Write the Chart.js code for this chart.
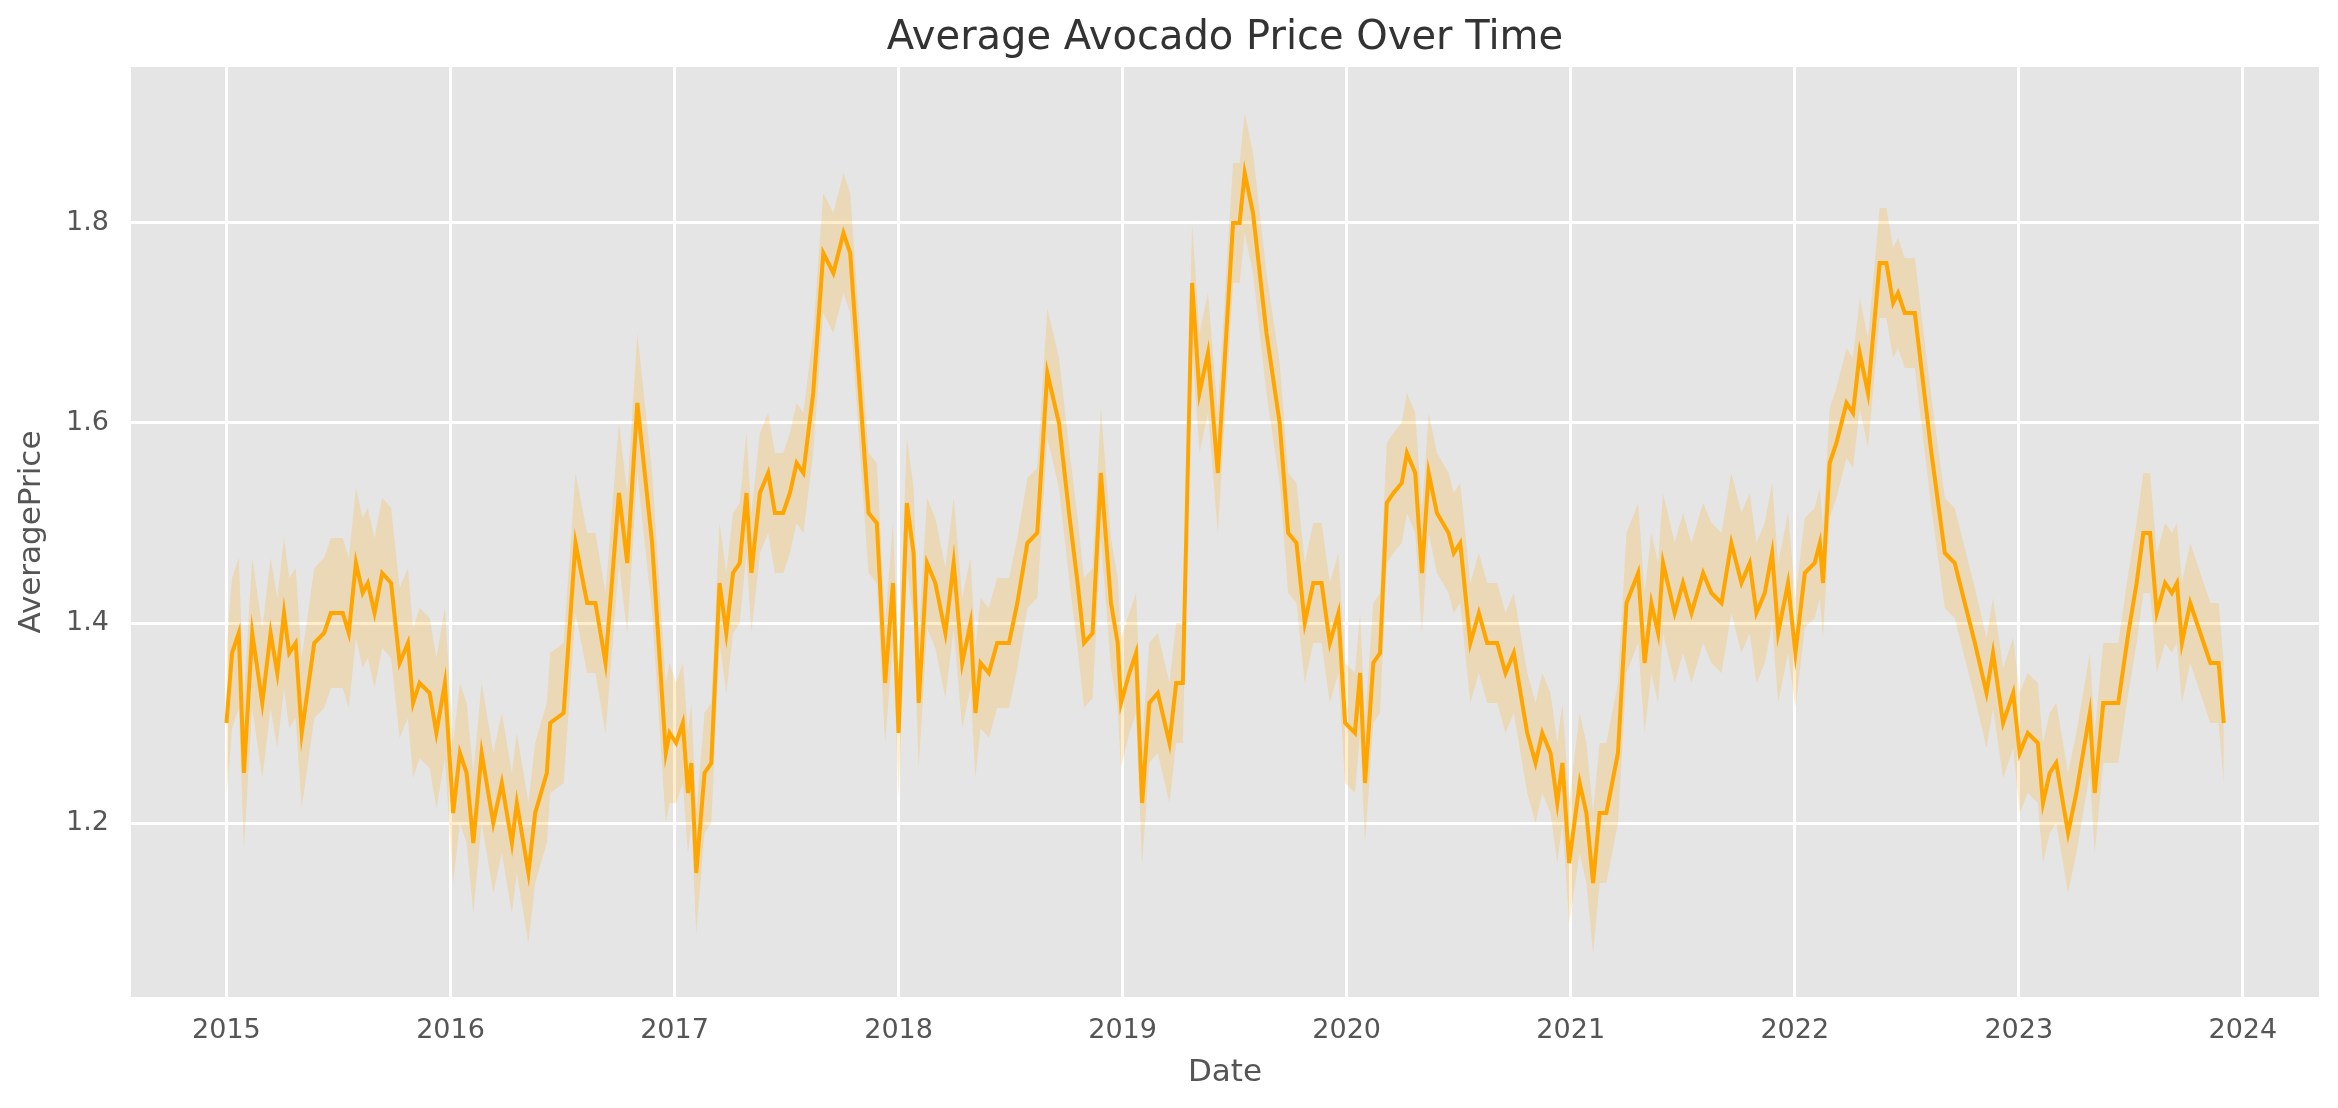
<!DOCTYPE html>
<html>
<head>
<meta charset="utf-8">
<title>Average Avocado Price Over Time</title>
<script src="https://cdn.jsdelivr.net/npm/chart.js@4.4.1/dist/chart.umd.min.js"></script>
<style>
  html, body { margin: 0; padding: 0; background: #ffffff; }
  #chart { display: block; }
</style>
</head>
<body>
<canvas id="chart" width="2338" height="1108"></canvas>
<script>
// readings: date as decimal year, weekly average price
const dates2015 = [2015.000, 2015.025, 2015.055, 2015.078, 2015.115, 2015.160, 2015.197, 2015.227, 2015.257, 2015.280,
  2015.309, 2015.336, 2015.392, 2015.436, 2015.466, 2015.519, 2015.546, 2015.578, 2015.608, 2015.631,
  2015.661, 2015.695, 2015.735, 2015.773, 2015.810, 2015.833, 2015.862, 2015.907, 2015.937, 2015.975];
const price2015 = [1.30, 1.37, 1.39, 1.25, 1.39, 1.32, 1.39, 1.35, 1.41, 1.37,
  1.38, 1.29, 1.38, 1.39, 1.41, 1.41, 1.39, 1.46, 1.43, 1.44,
  1.41, 1.45, 1.44, 1.36, 1.38, 1.32, 1.34, 1.33, 1.29, 1.34];

const dates2016 = [2016.012, 2016.042, 2016.072, 2016.102, 2016.139, 2016.191, 2016.229, 2016.274, 2016.296, 2016.348,
  2016.378, 2016.430, 2016.445, 2016.505, 2016.558, 2016.610, 2016.647, 2016.692, 2016.752, 2016.789,
  2016.834, 2016.900, 2016.961, 2016.978];
const price2016 = [1.21, 1.27, 1.25, 1.18, 1.27, 1.20, 1.24, 1.18, 1.22, 1.15,
  1.21, 1.25, 1.30, 1.31, 1.48, 1.42, 1.42, 1.36, 1.53, 1.46,
  1.62, 1.48, 1.27, 1.29];

const dates2017 = [2017.007, 2017.037, 2017.060, 2017.075, 2017.097, 2017.134, 2017.164, 2017.201, 2017.231, 2017.261,
  2017.291, 2017.321, 2017.343, 2017.381, 2017.418, 2017.448, 2017.485, 2017.515, 2017.545, 2017.575,
  2017.619, 2017.664, 2017.709, 2017.754, 2017.784, 2017.828, 2017.866, 2017.903, 2017.940, 2017.975];
const price2017 = [1.28, 1.30, 1.23, 1.26, 1.15, 1.25, 1.26, 1.44, 1.39, 1.45,
  1.46, 1.53, 1.45, 1.53, 1.55, 1.51, 1.51, 1.53, 1.56, 1.55,
  1.63, 1.77, 1.75, 1.79, 1.77, 1.63, 1.51, 1.50, 1.34, 1.44];

const dates2018 = [2018.000, 2018.037, 2018.067, 2018.090, 2018.127, 2018.164, 2018.209, 2018.246, 2018.284, 2018.321,
  2018.343, 2018.366, 2018.403, 2018.440, 2018.493, 2018.530, 2018.575, 2018.619, 2018.664, 2018.716,
  2018.761, 2018.799, 2018.828, 2018.866, 2018.903, 2018.948, 2018.978, 2018.993];
const price2018 = [1.29, 1.52, 1.47, 1.32, 1.46, 1.44, 1.39, 1.46, 1.36, 1.40,
  1.31, 1.36, 1.35, 1.38, 1.38, 1.42, 1.48, 1.49, 1.65, 1.60,
  1.51, 1.44, 1.38, 1.39, 1.55, 1.42, 1.38, 1.32];

const dates2019 = [2019.030, 2019.060, 2019.087, 2019.119, 2019.157, 2019.209, 2019.239, 2019.269, 2019.310, 2019.343,
  2019.381, 2019.425, 2019.463, 2019.493, 2019.522, 2019.545, 2019.582, 2019.642, 2019.701, 2019.739,
  2019.776, 2019.813, 2019.851, 2019.888, 2019.925, 2019.963, 2019.993];
const price2019 = [1.35, 1.37, 1.22, 1.32, 1.33, 1.28, 1.34, 1.34, 1.74, 1.63,
  1.67, 1.55, 1.69, 1.80, 1.80, 1.85, 1.81, 1.69, 1.60, 1.49,
  1.48, 1.40, 1.44, 1.44, 1.38, 1.41, 1.30];

const dates2020 = [2020.037, 2020.060, 2020.082, 2020.119, 2020.149, 2020.179, 2020.209, 2020.246, 2020.269, 2020.306,
  2020.336, 2020.366, 2020.403, 2020.455, 2020.478, 2020.507, 2020.552, 2020.590, 2020.627, 2020.672,
  2020.709, 2020.746, 2020.806, 2020.843, 2020.873, 2020.910, 2020.940, 2020.963, 2020.993];
const price2020 = [1.29, 1.35, 1.24, 1.36, 1.37, 1.52, 1.53, 1.54, 1.57, 1.55,
  1.45, 1.55, 1.51, 1.49, 1.47, 1.48, 1.38, 1.41, 1.38, 1.38,
  1.35, 1.37, 1.29, 1.26, 1.29, 1.27, 1.22, 1.26, 1.16];

const dates2021 = [2021.040, 2021.070, 2021.100, 2021.129, 2021.159, 2021.211, 2021.249, 2021.301, 2021.330, 2021.360,
  2021.390, 2021.412, 2021.464, 2021.501, 2021.539, 2021.591, 2021.628, 2021.673, 2021.717, 2021.762,
  2021.799, 2021.829, 2021.866, 2021.899, 2021.926, 2021.970];
const price2021 = [1.24, 1.21, 1.14, 1.21, 1.21, 1.27, 1.42, 1.45, 1.36, 1.42,
  1.39, 1.46, 1.41, 1.44, 1.41, 1.45, 1.43, 1.42, 1.48, 1.44,
  1.46, 1.41, 1.43, 1.47, 1.39, 1.44];

const dates2022 = [2022.003, 2022.045, 2022.089, 2022.112, 2022.126, 2022.156, 2022.186, 2022.231, 2022.260, 2022.290,
  2022.327, 2022.379, 2022.409, 2022.439, 2022.461, 2022.491, 2022.536, 2022.610, 2022.670, 2022.714,
  2022.759, 2022.804, 2022.856, 2022.885, 2022.930, 2022.975];
const price2022 = [1.37, 1.45, 1.46, 1.48, 1.44, 1.56, 1.58, 1.62, 1.61, 1.67,
  1.63, 1.76, 1.76, 1.72, 1.73, 1.71, 1.71, 1.57, 1.47, 1.46,
  1.42, 1.38, 1.33, 1.37, 1.30, 1.33];

const dates2023 = [2023.004, 2023.040, 2023.085, 2023.108, 2023.138, 2023.167, 2023.220, 2023.257, 2023.287, 2023.317,
  2023.339, 2023.377, 2023.422, 2023.444, 2023.489, 2023.526, 2023.556, 2023.586, 2023.616, 2023.653,
  2023.683, 2023.706, 2023.728, 2023.765, 2023.795, 2023.825, 2023.855, 2023.892, 2023.915];
const price2023 = [1.27, 1.29, 1.28, 1.22, 1.25, 1.26, 1.19, 1.23, 1.27, 1.31,
  1.23, 1.32, 1.32, 1.32, 1.39, 1.44, 1.49, 1.49, 1.41, 1.44,
  1.43, 1.44, 1.38, 1.42, 1.40, 1.38, 1.36, 1.36, 1.30];

// half height of the shaded confidence band, read per year
const bandYears = [2015, 2016, 2017, 2018, 2019, 2020, 2021, 2022, 2023];
const bandHalfWidth = [0.075, 0.07, 0.06, 0.065, 0.06, 0.06, 0.07, 0.055, 0.06];

const xTicks = [2015, 2016, 2017, 2018, 2019, 2020, 2021, 2022, 2023, 2024];
const yTicks = [1.2, 1.4, 1.6, 1.8];

// put the yearly pieces together
const allDates = [dates2015, dates2016, dates2017, dates2018, dates2019, dates2020, dates2021, dates2022, dates2023];
const allPrices = [price2015, price2016, price2017, price2018, price2019, price2020, price2021, price2022, price2023];

const linePoints = [];
const upperPoints = [];
const lowerPoints = [];
allDates.forEach((ds, i) => {
  const half = bandHalfWidth[bandYears.indexOf(Math.floor(ds[0]))];
  ds.forEach((d, j) => {
    const p = allPrices[i][j];
    linePoints.push({ x: d, y: p });
    upperPoints.push({ x: d, y: p + half });
    lowerPoints.push({ x: d, y: p - half });
  });
});

// grey panel behind the plot, ggplot style
const panelBackground = {
  id: "panelBackground",
  beforeDraw(chart) {
    const { ctx, chartArea } = chart;
    ctx.save();
    ctx.fillStyle = "#e5e5e5";
    ctx.fillRect(chartArea.left, chartArea.top, chartArea.right - chartArea.left, chartArea.bottom - chartArea.top);
    ctx.restore();
  }
};

function keepTicks(list) {
  return (scale) => {
    scale.ticks = list.map((v) => ({ value: v }));
  };
}

const ctx = document.getElementById("chart").getContext("2d");

new Chart(ctx, {
  type: "line",
  data: {
    datasets: [
      {
        label: "AveragePrice",
        data: linePoints,
        borderColor: "#ffa500",
        borderWidth: 4,
        pointRadius: 0,
        tension: 0,
        fill: false,
        order: 0
      },
      {
        label: "upper",
        data: upperPoints,
        borderWidth: 0,
        borderColor: "rgba(0,0,0,0)",
        pointRadius: 0,
        tension: 0,
        fill: "+1",
        backgroundColor: "rgba(255,165,0,0.2)",
        order: 1
      },
      {
        label: "lower",
        data: lowerPoints,
        borderWidth: 0,
        borderColor: "rgba(0,0,0,0)",
        pointRadius: 0,
        tension: 0,
        fill: false,
        order: 2
      }
    ]
  },
  options: {
    responsive: false,
    animation: false,
    devicePixelRatio: 1,
    layout: { padding: { left: 0, right: 19, top: 0, bottom: 0 } },
    plugins: {
      legend: { display: false },
      tooltip: { enabled: false },
      title: {
        display: true,
        fullSize: false,
        text: "Average Avocado Price Over Time",
        color: "#333333",
        font: { family: "DejaVu Sans", size: 40, weight: "normal" },
        padding: { top: 15, bottom: 4 }
      }
    },
    scales: {
      x: {
        type: "linear",
        min: 2014.574,
        max: 2024.34,
        afterBuildTicks: keepTicks(xTicks),
        afterFit: (scale) => { scale.height = 111; },
        grid: { color: "#ffffff", lineWidth: 3, drawTicks: false },
        border: { display: false },
        ticks: {
          color: "#555555",
          font: { family: "DejaVu Sans", size: 27 },
          padding: 18,
          maxRotation: 0,
          callback: (v) => String(v)
        },
        title: {
          display: true,
          text: "Date",
          color: "#555555",
          font: { family: "DejaVu Sans", size: 31 },
          padding: { top: 0, bottom: 16 }
        }
      },
      y: {
        type: "linear",
        min: 1.026,
        max: 1.956,
        afterBuildTicks: keepTicks(yTicks),
        afterFit: (scale) => { scale.width = 131; },
        grid: { color: "#ffffff", lineWidth: 3, drawTicks: false },
        border: { display: false },
        ticks: {
          color: "#555555",
          font: { family: "DejaVu Sans", size: 27 },
          padding: 22,
          callback: (v) => v.toFixed(1)
        },
        title: {
          display: true,
          text: "AveragePrice",
          color: "#555555",
          font: { family: "DejaVu Sans", size: 31 },
          padding: { top: 13, bottom: 0 }
        }
      }
    }
  },
  plugins: [panelBackground]
});
</script>
</body>
</html>
